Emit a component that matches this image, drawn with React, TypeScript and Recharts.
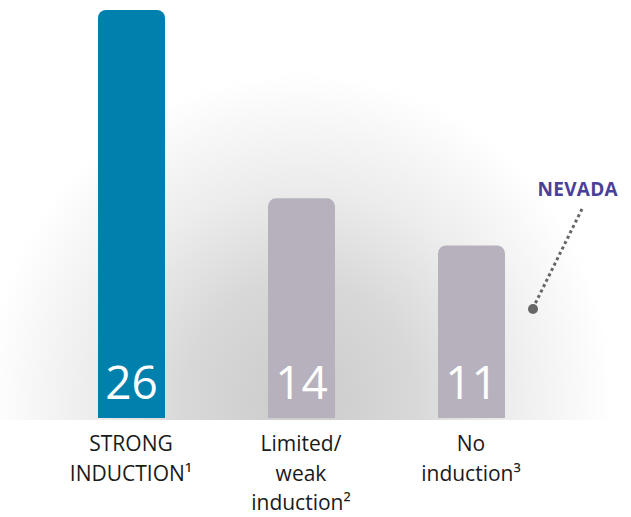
import * as React from "react";
import { BarChart, Bar, XAxis, YAxis, Cell, LabelList } from "recharts";

const categories = ["STRONG|INDUCTION¹", "Limited/|weak|induction²", "No|induction³"];
const counts = [26, 14, 11];
const barColors = ["#0080ad", "#b6b1bc", "#b6b1bc"];

const data = categories.map((name, i) => ({ name, value: counts[i] }));

const FONT = "'Open Sans', 'Noto Sans', sans-serif";

function CategoryTick(props: any) {
  const { x, y, payload } = props;
  const lines = String(payload.value).split("|");
  return (
    <text x={x} y={y} textAnchor="middle" fontFamily={FONT} fontSize={21} fill="#1a1a1a">
      {lines.map((line, i) => (
        <tspan key={i} x={x} y={y + 25 + i * 29.5}>
          {line}
        </tspan>
      ))}
    </text>
  );
}

function ValueLabel(props: any) {
  const { x, y, width, height, value } = props;
  return (
    <text
      x={x + width / 2}
      y={y + height - 19}
      textAnchor="middle"
      fontFamily={FONT}
      fontSize={46}
      fill="#ffffff"
    >
      {value}
    </text>
  );
}

export default function App() {
  return (
    <div style={{ position: "absolute", left: 0, top: 0, width: 631, height: 517, background: "#fff" }}>
      <div
        style={{
          position: "absolute",
          left: 0,
          top: 0,
          width: 631,
          height: 420,
          background:
            "radial-gradient(ellipse 330px 345px at 300px 400px, #cbcbcb 0%, #d8d8d8 35%, #ececec 62%, #ffffff 95%)",
        }}
      />
      <div style={{ position: "absolute", left: 0, top: 0 }}>
        <BarChart width={631} height={517} data={data} margin={{ top: 10, right: 75, bottom: 0, left: 46 }}>
          <YAxis hide domain={[0, 26]} />
          <XAxis
            dataKey="name"
            height={99}
            axisLine={false}
            tickLine={false}
            interval={0}
            tick={<CategoryTick />}
          />
          <Bar dataKey="value" barSize={67} radius={[8, 8, 0, 0]} isAnimationActive={false}>
            {data.map((d, i) => (
              <Cell key={d.name} fill={barColors[i]} />
            ))}
            <LabelList dataKey="value" content={<ValueLabel />} />
          </Bar>
        </BarChart>
      </div>
      <svg width={631} height={517} style={{ position: "absolute", left: 0, top: 0, pointerEvents: "none" }}>
        <text x={618} y={196} textAnchor="end" fontFamily={FONT} fontSize={19} fontWeight={700} fill="#4a3f99" letterSpacing={0.3}>
          NEVADA
        </text>
        <line x1={582} y1={209} x2={534} y2={306} stroke="#666666" strokeWidth={3} strokeDasharray="3 3" />
        <circle cx={533} cy={309} r={5} fill="#666666" />
      </svg>
    </div>
  );
}
